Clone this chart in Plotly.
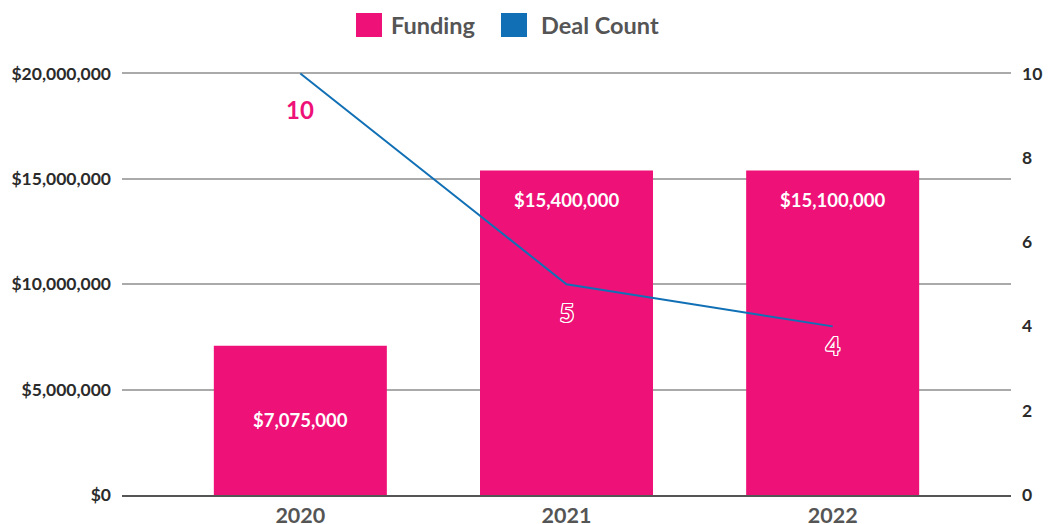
import plotly.graph_objects as go

years = ["2020", "2021", "2022"]
funding = [7075000, 15400000, 15400000]
funding_labels = ["$7,075,000", "$15,400,000", "$15,100,000"]
deal_count = [10, 5, 4]
left_ticks = [0, 5000000, 10000000, 15000000, 20000000]
left_tick_text = ["$0", "$5,000,000", "$10,000,000", "$15,000,000", "$20,000,000"]
right_ticks = [0, 2, 4, 6, 8, 10]

PINK = "#EE1177"
BLUE = "#1170B5"
FONT = "Lato"

W, H = 1049, 524
Y_TOP = 20400000
Y2_TOP = 10.2
ML, MR, MB = 122, 38, 29
PH = round(422 * Y_TOP / 20000000)
MT = H - MB - PH
PW = W - ML - MR

fig = go.Figure()
fig.add_trace(go.Bar(x=years, y=funding, marker=dict(color=PINK, line=dict(width=0)),
                     width=0.65, showlegend=False, hoverinfo="skip"))
fig.add_trace(go.Scatter(x=years, y=deal_count, yaxis="y2", mode="lines",
                         line=dict(color=BLUE, width=2), showlegend=False))

# bar value labels (x by category index)
for i, (v, lab) in enumerate(zip(funding, funding_labels)):
    ly = v / 2 if v < 10000000 else v - 1400000
    fig.add_annotation(x=i, y=ly, text=lab, showarrow=False,
                       font=dict(family=FONT, size=18.5, color="white", weight="bold"))

# line value labels
shadow = ("1px 1px 0 #fff, -1px -1px 0 #fff, 1px -1px 0 #fff, -1px 1px 0 #fff, "
          "0 1px 0 #fff, 0 -1px 0 #fff, 1px 0 0 #fff, -1px 0 0 #fff")
shifts = [-36, -28, -19]
for i, (c, s) in enumerate(zip(deal_count, shifts)):
    fig.add_annotation(x=i, y=c, yref="y2", text=str(c), showarrow=False, yshift=s,
                       font=dict(family=FONT, size=24, color=PINK, weight="bold", shadow=shadow))

# manual legend
def px_x(p):
    return (p - ML) / PW
def px_y(p):
    return (H - MB - p) / PH

legend_items = [("Funding", PINK, 356, 389), ("Deal Count", BLUE, 501, 539)]
for name, col, sx, tx in legend_items:
    fig.add_shape(type="rect", xref="paper", yref="paper",
                  x0=px_x(sx), x1=px_x(sx + 26), y0=px_y(37), y1=px_y(13),
                  fillcolor=col, line=dict(width=0))
    fig.add_annotation(xref="paper", yref="paper", x=px_x(tx), y=px_y(25),
                       xanchor="left", yanchor="middle", text=name, showarrow=False,
                       font=dict(family=FONT, size=23.5, color="#555555", weight="bold"))

fig.update_layout(
    width=W, height=H,
    margin=dict(l=ML, r=MR, t=MT, b=MB, pad=0, autoexpand=False),
    plot_bgcolor="white", paper_bgcolor="white",
    showlegend=False,
    xaxis=dict(type="category", range=[-0.67, 2.67], showgrid=False,
               showline=True, linecolor="#555555", linewidth=2,
               tickfont=dict(family=FONT, size=21.5, color="#555555", weight="bold"),
               ticks="", ticklabelstandoff=0, automargin=False),
    yaxis=dict(range=[0, Y_TOP], tickvals=left_ticks, ticktext=left_tick_text,
               showgrid=True, gridcolor="#AAAAAA", gridwidth=2, zeroline=False,
               tickfont=dict(family=FONT, size=17.5, color="#2b2b2b", weight="bold"),
               ticks="", ticklabelstandoff=10, automargin=False),
    yaxis2=dict(range=[0, Y2_TOP], tickvals=right_ticks, overlaying="y", side="right",
                showgrid=False, zeroline=False,
                tickfont=dict(family=FONT, size=17.5, color="#2b2b2b", weight="bold"),
                ticks="", ticklabelstandoff=10, automargin=False),
)

fig.write_html("out.html", config={"displayModeBar": False},
               post_script="document.body.style.margin='0';document.body.style.overflow='hidden';")
